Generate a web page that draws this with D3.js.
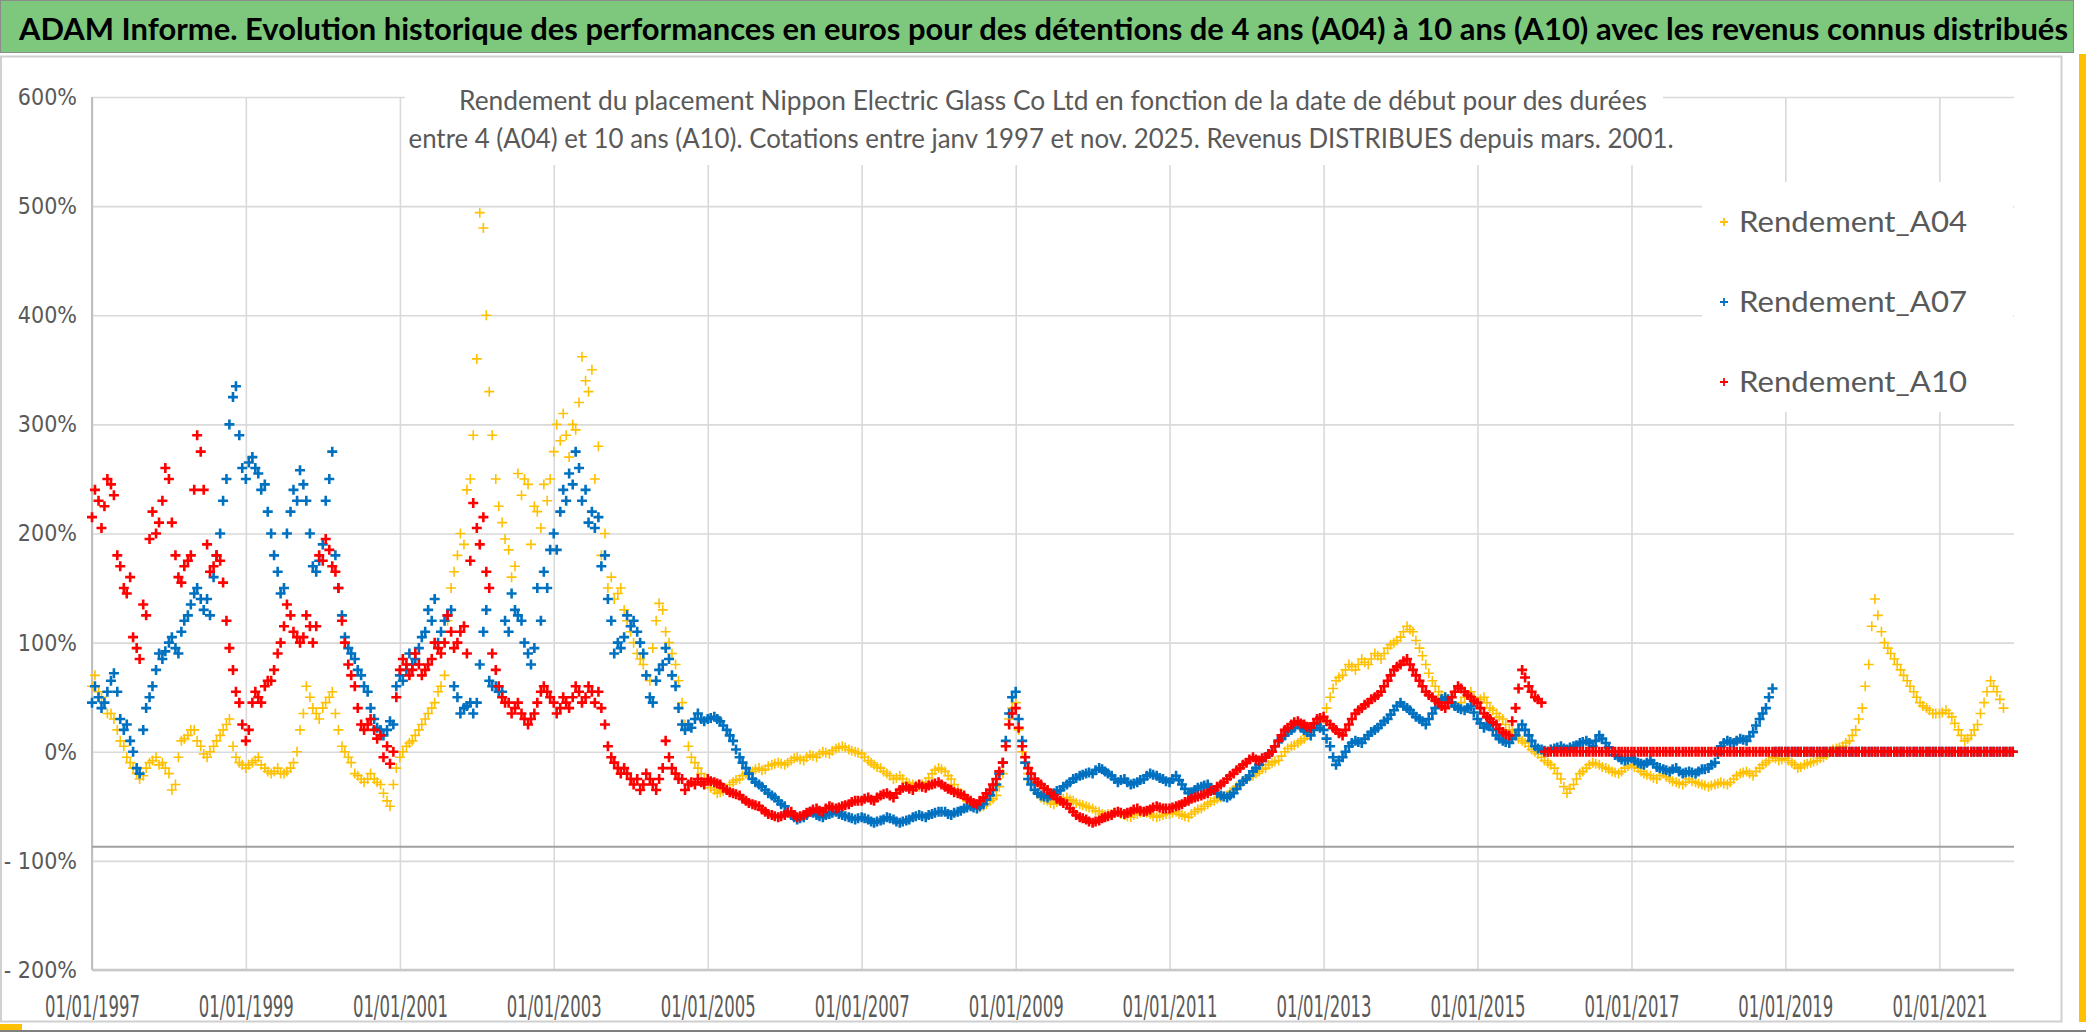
<!DOCTYPE html>
<html>
<head>
<meta charset="utf-8">
<title>ADAM Informe - Nippon Electric Glass Co Ltd</title>
<style>
    body { margin: 0; background: #fff; }
    svg { display: block; }
    .lbl { font-family: "Liberation Sans Narrow", "DejaVu Sans Condensed", Lato, sans-serif; fill: #595959; }
    .ttl { font-family: Lato, "Liberation Sans Narrow", sans-serif; }
</style>
</head>
<body>
<div id="chart"></div>
<script src="https://d3js.org/d3.v7.min.js"></script>
<script>
// valeurs (en %), a partir de janv. 1997
// rendementXXX : point du 1er de chaque mois ; rendementXXXMid : point du 15 de chaque mois
var yTicks = [600, 500, 400, 300, 200, 100, 0, -100, -200];
var xTickYears = [1997, 1999, 2001, 2003, 2005, 2007, 2009, 2011, 2013, 2015, 2017, 2019, 2021];
var seriesNames = ["Rendement_A04", "Rendement_A07", "Rendement_A10"];

var rendementA04 = [
    60, 55, 45, 35, 20, 5, -10, -20, -22, -10, -5, -10,
    -20, -30, 10, 15, 20, 5, -5, 5, 15, 25, 5, -10,
    -15, -10, -5, -15, -20, -15, -20, -15, 0, 35, 50, 35,
    40, 50, 35, 5, -5, -20, -25, -25, -25, -30, -45, -30,
    -5, 5, 10, 20, 30, 40, 55, 70, 150, 180, 190, 250,
    360, 480, 330, 250, 210, 185, 170, 235, 245, 225, 205, 230,
    275, 285, 290, 300, 320, 340, 350, 280, 200, 160, 145, 130,
    110, 90, 80, 65, 120, 130, 100, 80, 45, 5, -10, -20,
    -30, -35, -37, -35, -28, -25, -20, -18, -15, -16, -12, -10,
    -12, -8, -5, -8, -3, -5, 0, -2, 3, 5, 2, 0,
    -2, -8, -12, -15, -20, -25, -22, -28, -30, -32, -28, -20,
    -15, -18, -25, -35, -42, -48, -52, -50, -45, -40, -20, 30,
    45, 0, -20, -35, -42, -45, -48, -45, -42, -45, -48, -50,
    -52, -55, -58, -57, -55, -58, -60, -57, -55, -57, -60, -58,
    -57, -55, -58, -60, -55, -52, -48, -45, -42, -40, -35, -30,
    -25, -22, -18, -15, -10, -8, 0, 5, 8, 12, 18, 25,
    30, 50, 65, 70, 80, 75, 85, 80, 90, 85, 95, 100,
    105, 115, 110, 95, 80, 65, 55, 50, 45, 40, 50, 55,
    45, 50, 40, 35, 30, 20, 15, 10, 5, 0, -5, -10,
    -15, -25, -38, -30, -20, -15, -10, -12, -15, -18, -20, -15,
    -12, -15, -20, -22, -25, -20, -25, -28, -30, -25, -28, -30,
    -32, -30, -28, -30, -25, -20, -18, -22, -15, -10, -5, -8,
    -6, -10, -15, -12, -10, -8, -5, 0, 3, 5, 10, 20,
    40, 80, 140, 110, 95, 85, 75, 65, 55, 45, 40, 35,
    35, 38, 32, 20, 10, 15, 25, 45, 65, 55, 40
];
var rendementA04Mid = [
    70, 50, 35, 30, 10, -5, -15, -25, -15, -8, -12, -15,
    -35, -5, 12, 20, 10, -2, 0, 10, 20, 30, -5, -12,
    -12, -8, -12, -18, -18, -20, -18, -10, 20, 60, 40, 30,
    45, 55, 20, 0, -10, -22, -28, -20, -28, -38, -50, -15,
    0, 8, 15, 25, 35, 45, 60, 120, 165, 200, 240, 290,
    494, 400, 290, 225, 195, 160, 255, 250, 190, 220, 245, 250,
    300, 310, 270, 295, 362, 330, 250, 180, 150, 140, 150, 120,
    100, 85, 70, 95, 136, 110, 90, 65, 25, -5, -15, -25,
    -33, -38, -36, -30, -26, -22, -19, -16, -17, -13, -11, -11,
    -10, -6, -7, -5, -4, -2, -1, 1, 4, 4, 1, -1,
    -5, -10, -14, -18, -22, -24, -25, -29, -31, -30, -24, -17,
    -16, -22, -30, -38, -45, -50, -51, -48, -43, -32, 5, 40,
    20, -10, -28, -38, -44, -47, -46, -43, -44, -47, -49, -51,
    -54, -57, -57, -56, -57, -59, -58, -56, -56, -59, -59, -57,
    -56, -57, -59, -57, -53, -50, -46, -43, -41, -37, -32, -27,
    -23, -20, -16, -12, -9, -4, 3, 6, 10, 15, 22, 28,
    40, 58, 68, 75, 78, 80, 82, 85, 88, 90, 98, 102,
    110, 112, 102, 88, 72, 60, 52, 48, 42, 45, 52, 50,
    48, 45, 38, 32, 25, 18, 12, 8, 2, -2, -8, -12,
    -20, -32, -34, -25, -18, -12, -11, -14, -16, -19, -18, -13,
    -14, -18, -21, -24, -22, -23, -27, -29, -28, -27, -29, -31,
    -31, -29, -29, -28, -22, -19, -20, -18, -12, -8, -6, -7,
    -8, -12, -14, -11, -9, -6, -3, 2, 4, 8, 15, 30,
    60, 115, 125, 100, 90, 80, 70, 60, 50, 42, 38, 35,
    36, 35, 26, 15, 12, 20, 35, 55, 60, 48
];

var rendementA07 = [
    45, 50, 45, 65, 55, 20, 10, -15, 20, 50, 75, 85,
    100, 95, 110, 125, 145, 140, 140, 160, 200, 250, 325, 290,
    250, 270, 255, 245, 200, 165, 150, 220, 230, 245, 200, 165,
    190, 250, 180, 125, 95, 85, 70, 55, 30, 20, 20, 25,
    70, 75, 80, 95, 110, 120, 100, 120, 130, 50, 40, 45,
    45, 110, 65, 60, 55, 110, 130, 120, 90, 95, 120, 150,
    200, 220, 230, 245, 260, 240, 220, 215, 180, 120, 100, 105,
    115, 110, 90, 50, 65, 80, 85, 60, 25, 25, 30, 30,
    30, 32, 28, 20, 10, -5, -15, -25, -30, -35, -40, -45,
    -50, -58, -62, -60, -55, -58, -60, -57, -55, -58, -60, -62,
    -60, -62, -65, -63, -60, -62, -65, -63, -60, -58, -60, -57,
    -55, -55, -58, -55, -52, -50, -52, -48, -40, -30, -10, 35,
    55, 10, -25, -35, -40, -42, -38, -35, -30, -25, -22, -20,
    -20, -15, -18, -22, -28, -25, -30, -28, -25, -20, -22, -25,
    -28, -22, -30, -38, -35, -32, -30, -35, -40, -42, -38, -30,
    -25, -18, -12, -5, 0, 10, 15, 20, 25, 20, 15, 25,
    20, 5, -12, -5, 5, 10, 8, 15, 20, 25, 30, 38,
    45, 40, 35, 30, 25, 35, 45, 50, 45, 40, 38, 42,
    30, 22, 25, 15, 10, 8, 15, 25, 15, 5, 2, 0,
    3, 5, 2, 5, 8, 10, 5, 15, 8, 0, -5, -8,
    -6, -10, -12, -8, -14, -16, -18, -15, -20, -18, -20, -16,
    -15, -10, 5, 10, 8, 12, 10, 18, 30, 40, 58, 0,
    0, 0, 0, 0, 0, 0, 0, 0, 0, 0, 0, 0,
    0, 0, 0, 0, 0, 0, 0, 0, 0, 0, 0, 0,
    0, 0, 0, 0, 0, 0, 0, 0, 0, 0, 0, 0
];
var rendementA07Mid = [
    60, 40, 55, 72, 30, 25, 0, -20, 40, 60, 90, 92,
    105, 90, 120, 135, 150, 130, 125, 180, 230, 300, 335, 260,
    265, 260, 240, 220, 180, 145, 200, 240, 258, 230, 170, 175,
    230, 275, 150, 105, 90, 75, 60, 40, 22, 15, 28, 60,
    65, 90, 85, 105, 130, 140, 110, 125, 60, 35, 42, 35,
    80, 130, 60, 55, 120, 145, 125, 100, 80, 150, 165, 185,
    185, 240, 255, 275, 230, 210, 205, 170, 140, 90, 95, 125,
    120, 100, 70, 45, 75, 95, 70, 40, 20, 22, 35, 28,
    31, 30, 24, 15, 2, -10, -20, -28, -32, -38, -42, -48,
    -55, -60, -61, -58, -56, -59, -58, -56, -57, -59, -61, -61,
    -61, -64, -64, -62, -61, -64, -64, -62, -59, -59, -58, -56,
    -55, -57, -56, -54, -51, -51, -50, -44, -35, -20, 10, 50,
    30, -10, -30, -38, -41, -40, -36, -32, -28, -24, -21, -19,
    -17, -16, -20, -25, -26, -28, -29, -26, -22, -21, -24, -27,
    -25, -26, -34, -37, -33, -31, -33, -38, -41, -40, -34, -27,
    -22, -15, -8, -2, 5, 12, 18, 22, 22, 18, 20, 22,
    12, -5, -8, 0, 8, 9, 12, 18, 22, 28, 34, 42,
    42, 38, 32, 28, 30, 40, 48, 48, 42, 39, 40, 36,
    26, 24, 20, 12, 9, 12, 20, 20, 10, 3, 1, 2,
    4, 3, 4, 6, 9, 8, 10, 12, 4, -3, -7, -7,
    -8, -11, -10, -11, -15, -17, -16, -18, -19, -19, -18, -16,
    -12, -2, 8, 9, 10, 11, 14, 24, 35, 50, 0, 0,
    0, 0, 0, 0, 0, 0, 0, 0, 0, 0, 0, 0,
    0, 0, 0, 0, 0, 0, 0, 0, 0, 0, 0, 0,
    0, 0, 0, 0, 0, 0, 0, 0, 0, 0, 0, 0
];

var rendementA10 = [
    215, 230, 225, 245, 180, 150, 160, 95, 135, 195, 200, 230,
    250, 180, 155, 175, 240, 275, 190, 170, 175, 120, 75, 45,
    10, 45, 50, 60, 65, 90, 115, 125, 105, 105, 115, 115,
    175, 185, 165, 120, 80, 60, 25, 25, 20, 15, 5, 0,
    75, 80, 75, 80, 75, 85, 95, 100, 110, 100, 115, 175,
    205, 215, 150, 75, 50, 45, 40, 35, 25, 35, 55, 55,
    45, 40, 45, 50, 55, 50, 55, 55, 25, -5, -15, -15,
    -25, -25, -30, -25, -35, -15, -5, -20, -25, -30, -30, -28,
    -25, -28, -30, -35, -38, -40, -45, -48, -50, -55, -58, -60,
    -58, -55, -60, -58, -55, -52, -55, -50, -52, -50, -48, -45,
    -45, -42, -45, -40, -38, -42, -35, -32, -35, -30, -33, -30,
    -28, -32, -35, -38, -40, -45, -48, -42, -35, -25, -10, 25,
    40, 5, -15, -25, -30, -35, -40, -45, -48, -55, -60, -62,
    -65, -63, -60, -58, -55, -57, -55, -52, -55, -53, -50, -52,
    -52, -50, -48, -45, -42, -40, -38, -35, -30, -25, -20, -15,
    -10, -5, -8, -5, 0, 10, 20, 25, 28, 25, 22, 30,
    32, 25, 20, 15, 25, 35, 40, 45, 50, 55, 65, 75,
    80, 85, 75, 65, 55, 50, 45, 40, 50, 60, 55, 50,
    45, 35, 30, 25, 18, 15, 40, 75, 60, 50, 45, 0,
    0, 0, 0, 0, 0, 0, 0, 0, 0, 0, 0, 0,
    0, 0, 0, 0, 0, 0, 0, 0, 0, 0, 0, 0,
    0, 0, 0, 0, 0, 0, 0, 0, 0, 0, 0, 0,
    0, 0, 0, 0, 0, 0, 0, 0, 0, 0, 0, 0,
    0, 0, 0, 0, 0, 0, 0, 0, 0, 0, 0, 0,
    0, 0, 0, 0, 0, 0, 0, 0, 0, 0, 0, 0
];
var rendementA10Mid = [
    240, 205, 250, 235, 170, 145, 105, 85, 125, 220, 210, 260,
    210, 160, 170, 180, 290, 240, 165, 180, 155, 95, 55, 25,
    20, 55, 45, 65, 75, 100, 135, 110, 100, 125, 100, 180,
    195, 170, 150, 100, 70, 40, 20, 30, 12, -5, -11, 50,
    85, 70, 90, 70, 80, 100, 90, 125, 95, 110, 90, 228,
    190, 165, 90, 60, 45, 35, 45, 30, 30, 45, 60, 50,
    35, 50, 40, 60, 45, 60, 45, 40, 5, -10, -20, -20,
    -30, -35, -20, -30, -25, 10, -15, -25, -35, -28, -25, -30,
    -27, -29, -33, -37, -39, -43, -47, -49, -53, -57, -59, -59,
    -56, -58, -59, -56, -53, -54, -52, -51, -51, -49, -46, -45,
    -43, -44, -42, -39, -40, -38, -33, -34, -32, -32, -31, -29,
    -30, -34, -37, -39, -43, -47, -45, -38, -30, -18, 5, 35,
    22, -5, -20, -28, -33, -38, -43, -47, -52, -58, -61, -64,
    -64, -61, -59, -56, -56, -56, -53, -54, -54, -51, -51, -52,
    -51, -49, -46, -43, -41, -39, -36, -32, -28, -22, -17, -12,
    -7, -7, -6, -2, 5, 15, 22, 27, 26, 23, 26, 31,
    28, 22, 17, 20, 30, 38, 43, 48, 52, 60, 70, 78,
    83, 80, 70, 60, 52, 47, 42, 45, 55, 58, 52, 47,
    40, 32, 27, 21, 16, 28, 58, 68, 55, 48, 0, 0,
    0, 0, 0, 0, 0, 0, 0, 0, 0, 0, 0, 0,
    0, 0, 0, 0, 0, 0, 0, 0, 0, 0, 0, 0,
    0, 0, 0, 0, 0, 0, 0, 0, 0, 0, 0, 0,
    0, 0, 0, 0, 0, 0, 0, 0, 0, 0, 0, 0,
    0, 0, 0, 0, 0, 0, 0, 0, 0, 0, 0, 0,
    0, 0, 0, 0, 0, 0, 0, 0, 0, 0, 0, 0
];

var colors = ["#ffc000", "#0070c0", "#ff0000"];

var width = 2086, height = 1032;
var svg = d3.select("#chart").append("svg")
    .attr("width", width)
    .attr("height", height);

// cadre et bandeau du titre
svg.append("rect").attr("x", 0).attr("y", 0).attr("width", width).attr("height", height).attr("fill", "#fff");
svg.append("rect")
    .attr("x", 0.5).attr("y", 0.5).attr("width", 2073).attr("height", 52)
    .attr("fill", "#7ec87e").attr("stroke", "#8c8c8c");
svg.append("text")
    .attr("class", "ttl")
    .attr("x", 19).attr("y", 40)
    .attr("textLength", 2049).attr("lengthAdjust", "spacingAndGlyphs")
    .style("font-size", "31px").style("font-weight", "bold").attr("fill", "#000")
    .text("ADAM Informe. Evolution historique des performances en euros pour des détentions de 4 ans (A04) à 10 ans (A10) avec les revenus connus distribués");

svg.append("path").attr("d", "M0,56.5H2061.5V1021.5H0").attr("fill", "none").attr("stroke", "#d0d0d0").attr("stroke-width", 2);
svg.append("line").attr("x1", 1).attr("x2", 1).attr("y1", 56).attr("y2", 1022).attr("stroke", "#d0d0d0").attr("stroke-width", 2);
svg.append("line").attr("x1", 0).attr("x2", width).attr("y1", 1031).attr("y2", 1031).attr("stroke", "#7f7f7f").attr("stroke-width", 2);
svg.append("rect").attr("x", 0).attr("y", 1024).attr("width", 22).attr("height", 6).attr("fill", "#ffc000");
svg.append("rect").attr("x", 2079).attr("y", 54).attr("width", 7).attr("height", 968).attr("fill", "#ffc000");

// echelles
var x = d3.scaleTime()
    .domain([new Date(1997, 0, 1), new Date(2021, 11, 21)])
    .range([92, 2014]);
var y = d3.scaleLinear()
    .domain([-200, 600])
    .range([970, 97]);

function pct(v) {
    return v < 0 ? "- " + Math.abs(v) + "%" : v + "%";
}

var yAxis = svg.append("g")
    .attr("transform", "translate(92,0)")
    .call(d3.axisLeft(y).tickValues(yTicks).tickSize(-(2014 - 92)).tickPadding(15).tickFormat(pct));
yAxis.select(".domain").remove();
yAxis.selectAll("line").attr("stroke", "#d9d9d9").attr("stroke-width", 1.6);
yAxis.selectAll("text").attr("class", "lbl").style("font-size", "23px");

var xAxis = svg.append("g")
    .attr("transform", "translate(0,970)")
    .call(d3.axisBottom(x)
        .tickValues(xTickYears.map(function (yr) { return new Date(yr, 0, 1); }))
        .tickSize(-(970 - 97)).tickPadding(26)
        .tickFormat(d3.timeFormat("%d/%m/%Y")));
xAxis.select(".domain").remove();
xAxis.selectAll("line").attr("stroke", "#d9d9d9").attr("stroke-width", 1.6);
xAxis.selectAll("text").attr("class", "lbl").style("font-size", "30px")
    .attr("textLength", 95).attr("lengthAdjust", "spacingAndGlyphs");

// axes
svg.append("line").attr("x1", 92).attr("x2", 92).attr("y1", 97).attr("y2", 970)
    .attr("stroke", "#bfbfbf").attr("stroke-width", 2);
svg.append("line").attr("x1", 92).attr("x2", 2014).attr("y1", y(-200)).attr("y2", y(-200))
    .attr("stroke", "#c8c8c8").attr("stroke-width", 2.5);
svg.append("line").attr("x1", 92).attr("x2", 2014).attr("y1", y(-87)).attr("y2", y(-87))
    .attr("stroke", "#a0a0a0").attr("stroke-width", 2);

// titre du graphique (fond blanc au-dessus du quadrillage)
svg.append("rect").attr("x", 405).attr("y", 72).attr("width", 1258).attr("height", 93).attr("fill", "#fff");
svg.append("text").attr("class", "ttl")
    .attr("x", 1053).attr("y", 110).attr("text-anchor", "middle")
    .attr("textLength", 1188).attr("lengthAdjust", "spacingAndGlyphs")
    .style("font-size", "26px").attr("fill", "#595959")
    .text("Rendement du placement Nippon Electric Glass Co Ltd en fonction de la date de début pour des durées");
svg.append("text").attr("class", "ttl")
    .attr("x", 1041).attr("y", 148).attr("text-anchor", "middle")
    .attr("textLength", 1265).attr("lengthAdjust", "spacingAndGlyphs")
    .style("font-size", "26px").attr("fill", "#595959")
    .text("entre 4 (A04) et 10 ans (A10). Cotations entre janv 1997 et nov. 2025. Revenus DISTRIBUES depuis mars. 2001.");

// nuages de points
var plus = "M-5,0H5M0,-5V5";
var allSeries = [
    [rendementA04, rendementA04Mid],
    [rendementA07, rendementA07Mid],
    [rendementA10, rendementA10Mid]
];
var strokeW = [1.6, 2.6, 2.6];

allSeries.forEach(function (pair, s) {
    var pts = pair[0].map(function (v, i) { return { date: new Date(1997, i, 1), value: v }; })
        .concat(pair[1].map(function (v, i) { return { date: new Date(1997, i, 15), value: v }; }));
    svg.append("g")
        .selectAll("path")
        .data(pts)
        .enter().append("path")
        .attr("transform", function (d) {
            return "translate(" + x(d.date) + "," + y(d.value) + ")";
        })
        .attr("d", plus)
        .attr("fill", "none")
        .attr("stroke", colors[s])
        .attr("stroke-width", strokeW[s]);
});

// legende
svg.append("rect").attr("x", 1702).attr("y", 182).attr("width", 311).attr("height", 230).attr("fill", "#fff");
var legend = svg.append("g").selectAll("g")
    .data(seriesNames)
    .enter().append("g")
    .attr("transform", function (d, i) { return "translate(1724," + (222 + i * 80) + ")"; });
legend.append("path")
    .attr("d", "M-4,0H4M0,-4V4")
    .attr("fill", "none")
    .attr("stroke", function (d, i) { return colors[i]; })
    .attr("stroke-width", 1.8);
legend.append("text")
    .attr("class", "ttl")
    .attr("x", 15).attr("dy", "0.36em")
    .attr("textLength", 228).attr("lengthAdjust", "spacingAndGlyphs")
    .style("font-size", "28px").attr("fill", "#595959")
    .text(function (d) { return d; });
</script>
</body>
</html>
